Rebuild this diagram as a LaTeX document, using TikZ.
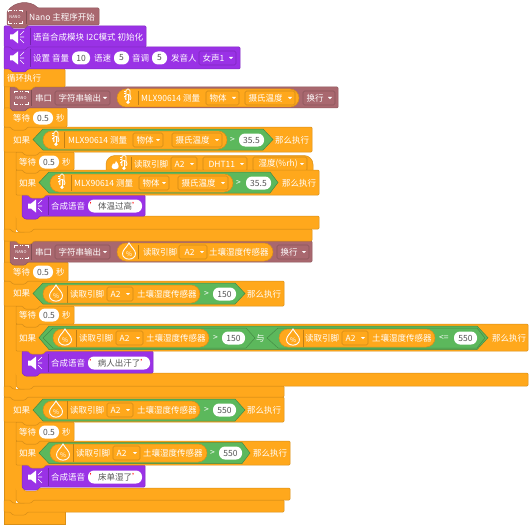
\documentclass[tikz,border=0pt]{standalone}
\usepackage{fontspec}
\setmainfont{Noto Sans CJK SC}
\definecolor{og}{HTML}{FFA81C}
\definecolor{mr}{HTML}{A9686F}
\definecolor{pp}{HTML}{9A32E6}
\definecolor{gn}{HTML}{5CB85C}
\definecolor{dk}{HTML}{555555}
\newcounter{tn}
\tikzset{
 lab/.style={text=white,inner sep=0pt,anchor=west,font=\fontsize{8.5}{10}\selectfont},
 labc/.style={text=dk,inner sep=0pt,anchor=center,font=\fontsize{8.5}{10}\selectfont},
 blockedge/.style={line width=.5pt,rounded corners=1pt},
 ico/.style={draw=white,line width=.7pt},
}
% block with notch and a tab whose base is given apart
\newcommand{\BlkT}[6]{\pgfmathsetmacro\bxa{#6+24}
 \fill[#5,draw=#5!85!black,blockedge] (#1,#2) -- ++(6,0) -- ++(3,3) -- ++(12,0) -- ++(3,-3) -- (#3,#2) -- (#3,#4) -- (\bxa,#4) -- ++(-3,3) -- ++(-12,0) -- ++(-3,-3) -- (#1,#4) -- cycle;}
\newcommand{\Blk}[5]{\BlkT{#1}{#2}{#3}{#4}{#5}{#1}}
\newcommand{\Tx}[3]{\stepcounter{tn}\node[lab] (t\arabic{tn}) at (#1,#2) {#3};}
\newcommand{\Pl}[4]{\stepcounter{tn}\fill[white,rounded corners=6pt] (#1,#3-6.5) rectangle (#2,#3+6.5);
 \pgfmathsetmacro\pc{(#1+#2)/2}\node[labc] (t\arabic{tn}) at (\pc,#3) {#4};}
\newcommand{\Dd}[5]{\draw[#5!82!black,line width=.6pt,rounded corners=1.5pt] (#1,#3-7) rectangle (#2,#3+7);
 \pgfmathsetmacro\ddx{#1+3.5}\pgfmathsetmacro\ddy{#2-7}\Tx{\ddx}{#3}{#4}
 \fill[white] (\ddy,#3-1) -- ++(4,0) -- ++(-2,2.2) -- cycle;}
\newcommand{\Sep}[4]{\draw[#4!75!black,line width=.5pt] (#1,#2) -- (#1,#3);}
\newcommand{\Op}[3]{\fill[og,draw=og!85!black,line width=.5pt,rounded corners=9pt] (#1,#3-9) rectangle (#2,#3+9);}
\newcommand{\Hx}[6]{\fill[gn,draw=gn!75!black,line width=.5pt] (#1,{(#5+#6)/2}) -- (#2,#5) -- (#3,#5) -- (#4,{(#5+#6)/2}) -- (#3,#6) -- (#2,#6) -- cycle;}
\newcommand{\Nano}[2]{\begin{scope}[shift={(#1,#2)}]
 \draw[white,line width=.8pt] (-7,-4.5) -- (-7,-6.5) -- (-4,-6.5) (4,-6.5) -- (7,-6.5) -- (7,-4.5) (7,4.5) -- (7,6.5) -- (4,6.5) (-4,6.5) -- (-7,6.5) -- (-7,4.5);
 \draw[white,line width=.5pt,dotted] (-4,-6.5) -- (4,-6.5) (-4,6.5) -- (4,6.5);
 \stepcounter{tn}\node[text=white,inner sep=0pt,font=\fontsize{4}{4}\selectfont] (t\arabic{tn}) at (0,0) {NANO};
 \end{scope}}
\newcommand{\Spk}[2]{\begin{scope}[shift={(#1,#2)}]
 \fill[white] (0,-2.5) -- (3,-2.5) -- (8,-6.5) -- (8,6.5) -- (3,2.5) -- (0,2.5) -- cycle;
 \draw[white,line width=.6pt] (10,-2) -- (14,-6) (10,0) -- (14,0) (10,2) -- (14,6);
 \end{scope}}
\newcommand{\Therm}[2]{\begin{scope}[shift={(#1,#2)},scale=1.15]
 \draw[ico,rounded corners=1.6pt] (-1.7,2.5) -- (-1.7,-7) -- (1.7,-7) -- (1.7,2.5);
 \draw[ico] (-1.7,2.5) arc[start angle=130,end angle=410,radius=2.7];
 \fill[white] (0,4.6) circle (1.7);
 \draw[white,line width=.5pt] (-.0,4.6) -- (0,-3) (-3.5,-5) -- (-1.7,-5) (-3.5,-3) -- (-1.7,-3) (-3.5,-1) -- (-1.7,-1);
 \end{scope}}
\newcommand{\Drop}[2]{\begin{scope}[shift={(#1,#2)}]
 \draw[ico,line width=.9pt] (0,-8) .. controls (2,-4) and (6.5,-1) .. (6.5,2.5) .. controls (6.5,10) and (-6.5,10) .. (-6.5,2.5) .. controls (-6.5,-1) and (-2,-4) .. (0,-8) -- cycle;
 \stepcounter{tn}\node[text=white,inner sep=0pt,font=\fontsize{6.5}{6}\selectfont] (t\arabic{tn}) at (0,3) {\%};
 \end{scope}}
% composite pieces
\newcommand{\Wait}[4]{\pgfmathsetmacro\wta{#1+9}\pgfmathsetmacro\wtb{#1+29}\pgfmathsetmacro\wtc{#1+49}\pgfmathsetmacro\wtd{#1+52}
 \Tx{\wta}{#3}{等待}\Pl{\wtb}{\wtc}{#3}{0.5}\Tx{\wtd}{#3}{秒}}
\newcommand{\Spch}[3]{% x-right, y-centre, text
 \Spk{28}{#2}\Sep{48}{#2-9}{#2+9}{pp}\Tx{51}{#2}{合成语音}
 \Pl{88}{#1}{#2}{\textcolor{red}{\char"0027}#3\textcolor{red}{\char"0027}}}
\begin{document}
\begin{tikzpicture}[x=1pt,y=-1pt]
\useasboundingbox (0,0) rectangle (532,524);
\fill[white] (0,0) rectangle (532,524);
% floating DHT reporter
\fill[og,draw=og!85!black,line width=.5pt,rounded corners=9pt] (106,155.5) rectangle (313,180);
\Therm{124}{163}
\fill[white] (114,169) .. controls (111,169) and (111,165) .. (113,163.5) .. controls (114,165) and (115,164) .. (116,161) .. controls (119,164) and (120,169) .. (116,169) -- cycle;
\Sep{131}{157}{170}{og}
\Tx{134}{164}{读取引脚}\Dd{171}{197}{164}{A2}{og}\Dd{203}{247}{164}{\ DHT11}{og}\Dd{253}{307}{164}{\ 湿度(\%rh)}{og}
% bottom of loop
\fill[og] (4,70) rectangle (10,524);
\fill[og,draw=og!85!black,line width=.5pt] (4,512) -- (4,524) -- (65,524) -- (65,512);
\fill[og] (4,152) rectangle (16,240);
\fill[og] (4,306) rectangle (16,391);
\fill[og] (4,422) rectangle (16,504);
\draw[og!85!black,line width=.5pt] (4,70) -- (4,524) (16,152) -- (16,229) (16,306) -- (16,385) (16,422) -- (16,500);
% third if, bottom up
\Blk{4}{500}{284}{512}{og}
\BlkT{16}{488}{290}{500}{og}{10}
\fill[og] (16,465) rectangle (22,490); \draw[og!85!black,line width=.5pt] (22,465) -- (22,488);
\BlkT{22}{465}{145}{487}{pp}{16}
\Spch{142}{477}{床单湿了}
\BlkT{16}{441}{290}{465}{og}{22}
\Tx{19}{453}{如果}
\Hx{39}{49}{242}{250}{442.5}{463.5}
\Op{50}{207}{453}
\Drop{63}{452}\Sep{73}{444}{462}{og}
\Tx{76}{453}{读取引脚}\Dd{113}{140}{453}{A2}{og}\Tx{143}{453}{土壤湿度传感器}
\Tx{210}{453}{>}\Pl{219}{242}{453}{550}
\Tx{253}{453}{那么执行}
\Blk{16}{422}{74}{441}{og}
\Wait{10}{74}{432}{441}
\BlkT{4}{397}{284}{422}{og}{16}
\Tx{13}{410}{如果}
\Hx{33}{43}{235}{245}{399}{421}
\Op{43}{200}{410}
\Drop{56}{409}\Sep{67}{401}{419}{og}
\Tx{70}{410}{读取引脚}\Dd{107}{133}{410}{A2}{og}\Tx{137}{410}{土壤湿度传感器}
\Tx{204}{410}{>}\Pl{213}{236}{410}{550}
\Tx{247}{410}{那么执行}
% second if
\Blk{4}{386}{284}{397}{og}
\BlkT{16}{373}{528}{386}{og}{10}
\fill[og] (16,351) rectangle (22,375); \draw[og!85!black,line width=.5pt] (22,351) -- (22,373);
\BlkT{22}{351}{153}{373}{pp}{16}
\Spch{150}{363}{病人出汗了}
\BlkT{16}{324}{528}{351}{og}{22}
\Tx{19}{338}{如果}
\Hx{39}{49}{477}{488}{326}{349.5}
\Hx{43}{53}{246}{255}{328}{348}
\Op{53}{209}{338}
\Drop{65}{337}\Sep{76}{329.5}{346.5}{og}
\Tx{79}{338}{读取引脚}\Dd{116}{143}{338}{A2}{og}\Tx{146}{338}{土壤湿度传感器}
\Tx{213}{338}{>}\Pl{222}{245}{338}{150}
\Tx{256}{338}{与}
\Hx{267}{278}{477}{485}{328}{348}
\Op{279}{435}{338}
\Drop{293}{337}\Sep{303}{329.5}{346.5}{og}
\Tx{305}{338}{读取引脚}\Dd{342}{368}{338}{A2}{og}\Tx{372}{338}{土壤湿度传感器}
\Tx{439}{338}{<=}\Pl{454}{477}{338}{550}
\Tx{492}{338}{那么执行}
\Blk{16}{306}{74}{324}{og}
\Wait{10}{74}{315}{324}
\BlkT{4}{281}{284}{306}{og}{16}
\Tx{13}{293}{如果}
\Hx{33}{43}{235}{245}{283}{304}
\Op{43}{200}{294}
\Drop{56}{293}\Sep{67}{285.5}{302.5}{og}
\Tx{70}{294}{读取引脚}\Dd{107}{133}{294}{A2}{og}\Tx{137}{294}{土壤湿度传感器}
\Tx{204}{294}{>}\Pl{213}{236}{294}{150}
\Tx{247}{294}{那么执行}
\Blk{4}{262}{68}{281}{og}
\Wait{4}{68}{272}{281}
% second serial
\BlkT{10}{241}{312}{262}{mr}{4}
\Nano{21}{252}\Sep{31}{243}{260}{mr}
\Tx{35}{252}{串口}\Dd{55}{110}{252}{字符串输出}{mr}
\fill[og,draw=og!85!black,line width=.5pt,rounded corners=9pt] (117,243) rectangle (273,261);
\Drop{129}{251}\Sep{138}{245}{259}{og}
\Tx{143}{252}{读取引脚}\Dd{179}{207}{252}{\ A2}{og}\Tx{209}{252}{土壤湿度传感器}
\Dd{277}{309}{252}{换行}{mr}
% first if
\BlkT{4}{229}{312}{241}{og}{10}
\BlkT{16}{216}{319}{229}{og}{10}
\fill[og] (16,195) rectangle (22,218); \draw[og!85!black,line width=.5pt] (22,195) -- (22,216);
\BlkT{22}{195}{145}{216}{pp}{16}
\Spch{142}{206}{体温过高}
\BlkT{16}{170}{319}{195}{og}{22}
\Tx{19}{183}{如果}
\Hx{39}{49}{270}{278}{172}{193}
\Op{50}{233}{183}
\Therm{62}{182}\Sep{71}{175}{191}{og}
\Tx{74}{183}{MLX90614 测量}\Dd{139}{169}{183}{物体}{og}\Dd{178}{228}{183}{摄氏温度}{og}
\Tx{236}{183}{>}\Pl{246}{271}{183}{35.5}
\Tx{282}{183}{那么执行}
\Blk{16}{152}{74}{170}{og}
\Wait{10}{74}{162}{170}
\BlkT{4}{127}{312}{152}{og}{16}
\Tx{13}{140}{如果}
\Hx{33}{43}{263}{273}{129}{150}
\Op{43}{227}{140}
\Therm{56}{139}\Sep{64}{132}{148}{og}
\Tx{68}{140}{MLX90614 测量}\Dd{133}{163}{140}{物体}{og}\Dd{172}{222}{140}{摄氏温度}{og}
\Tx{230}{140}{>}\Pl{239}{264}{140}{35.5}
\Tx{275}{140}{那么执行}
\Blk{4}{108}{67}{127}{og}
\Wait{4}{67}{118}{127}
% first serial
\BlkT{10}{87}{338}{108}{mr}{4}
\Nano{21}{98}\Sep{31}{89}{106}{mr}
\Tx{35}{98}{串口}\Dd{55}{110}{98}{字符串输出}{mr}
\fill[og,draw=og!85!black,line width=.5pt,rounded corners=9pt] (117,89) rectangle (299,107);
\Therm{128}{97}\Sep{138}{91}{105}{og}
\Tx{141}{98}{MLX90614 测量}\Dd{206}{239}{98}{物体}{og}\Dd{245}{295}{98}{摄氏温度}{og}
\Dd{303}{335}{98}{换行}{mr}
% header blocks
\BlkT{4}{69}{65}{87}{og}{10}
\Tx{7}{78.5}{循环执行}
\Blk{4}{47}{240}{69}{pp}
\Spk{10}{58}\Sep{30}{49}{67}{pp}
\Tx{33}{58}{设置 音量}\Pl{72}{90}{58}{10}\Tx{94}{58}{语速}\Pl{114}{129}{58}{5}\Tx{132}{58}{音调}\Pl{152}{167}{58}{5}\Tx{171}{58}{发音人}\Dd{199}{236}{58}{女声1}{pp}
\Blk{4}{26}{146}{47}{pp}
\Spk{10}{37}\Sep{30}{28}{45}{pp}
\Tx{33}{37}{语音合成模块 I2C模式 初始化}
% hat
\fill[mr,draw=mr!85!black,blockedge] (7,12) .. controls (14,1) and (30,0) .. (38,8) -- (99,8) -- (99,25) -- (28,25) -- ++(-3,3) -- ++(-12,0) -- ++(-3,-3) -- (7,25) -- cycle;
\Nano{15}{17}\Sep{26}{11}{24}{mr}
\Tx{29}{17}{Nano 主程序开始}
\end{tikzpicture}
\end{document}
